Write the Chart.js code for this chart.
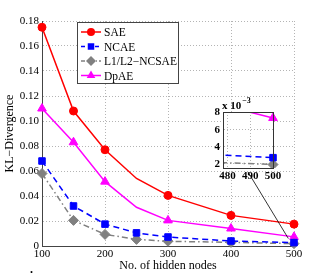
<!DOCTYPE html>
<html>
<head>
<meta charset="utf-8">
<script src="https://cdn.jsdelivr.net/npm/chart.js@4.4.0/dist/chart.umd.min.js"></script>
<style>
html, body { margin: 0; padding: 0; background: #fff; }
#wrap { position: relative; width: 324px; height: 277px; }
#mainChart { position: absolute; left: 0; top: 0; }
#insetChart { position: absolute; left: 200px; top: 96px; }
</style>
</head>
<body>
<div id="wrap">
    <canvas id="mainChart" width="324" height="277"></canvas>
    <canvas id="insetChart" width="90" height="90"></canvas>
</div>
<script>
'use strict';

// values
var hiddenNodes = [100, 150, 200, 250, 300, 400, 500];
var saeValues   = [0.175, 0.108, 0.077, 0.054, 0.0405, 0.0245, 0.0175];
var ncaeValues  = [0.068, 0.032, 0.0175, 0.0105, 0.0072, 0.004, 0.0027];
var l1l2Values  = [0.058, 0.0205, 0.0093, 0.0053, 0.0038, 0.0029, 0.0019];
var dpaeValues  = [0.110, 0.083, 0.0515, 0.031, 0.0205, 0.014, 0.0073];
var seriesNames = ['SAE', 'NCAE', 'L1/L2\u2212NCSAE', 'DpAE'];

var xTicks      = [100, 200, 300, 400, 500];
var yTicks      = [0, 0.02, 0.04, 0.06, 0.08, 0.1, 0.12, 0.14, 0.16, 0.18];
var insetXTicks = [480, 490, 500];
var insetYTicks = [0.002, 0.004, 0.006, 0.008];

var INSET_LEFT = 200, INSET_TOP = 96;
var SERIF = "'Liberation Serif', 'DejaVu Serif', serif";
var GRID  = '#b4b4b4';
var colors = ['#ff0000', '#0000ff', '#808080', '#ff00ff'];
var dashes = [[], [6, 4], [6, 3, 1.5, 3], []];
var shapes = ['circle', 'rect', 'rectRot', 'triangle'];
var radii  = [4, 4.6, 5, 5];

function toPoints(vals) {
    return hiddenNodes.map(function (x, i) { return { x: x, y: vals[i] }; });
}

function makeDatasets(clip) {
    var all = [saeValues, ncaeValues, l1l2Values, dpaeValues];
    return all.map(function (vals, i) {
        // SAE and DpAE have no marker at 250 in the figure
        var r = hiddenNodes.map(function (x) {
            return (x === 250 && (i === 0 || i === 3)) ? 0 : radii[i];
        });
        return {
            label: seriesNames[i],
            data: toPoints(vals),
            borderColor: colors[i],
            backgroundColor: colors[i],
            borderWidth: 1.5,
            borderDash: dashes[i],
            pointStyle: shapes[i],
            pointRadius: r,
            pointBorderWidth: 1,
            pointBorderColor: colors[i],
            pointBackgroundColor: colors[i],
            tension: 0,
            clip: clip
        };
    });
}

function fixTicks(list) {
    return function (scale) {
        scale.ticks = list.map(function (v) { return { value: v }; });
    };
}

function drawMarker(ctx, shape, x, y, r, color) {
    ctx.save();
    ctx.fillStyle = color;
    ctx.beginPath();
    if (shape === 'circle') {
        ctx.arc(x, y, r, 0, Math.PI * 2);
    } else if (shape === 'rect') {
        var s = r * Math.SQRT1_2;
        ctx.rect(x - s, y - s, 2 * s, 2 * s);
    } else if (shape === 'rectRot') {
        ctx.moveTo(x, y - r); ctx.lineTo(x + r, y); ctx.lineTo(x, y + r); ctx.lineTo(x - r, y);
        ctx.closePath();
    } else {
        ctx.moveTo(x, y - r);
        ctx.lineTo(x + r * 0.866, y + r * 0.5);
        ctx.lineTo(x - r * 0.866, y + r * 0.5);
        ctx.closePath();
    }
    ctx.fill();
    ctx.restore();
}

// ---- inset (zoom on 480..500) ----
var insetBox = {
    id: 'insetBox',
    beforeDraw: function (chart) {
        var a = chart.chartArea, ctx = chart.ctx;
        ctx.save();
        ctx.fillStyle = '#fff';
        ctx.fillRect(a.left, a.top, a.right - a.left, a.bottom - a.top);
        ctx.restore();
    },
    afterDraw: function (chart) {
        var a = chart.chartArea, ctx = chart.ctx;
        ctx.save();
        ctx.strokeStyle = '#333';
        ctx.lineWidth = 1;
        ctx.strokeRect(a.left + 0.5, a.top + 0.5, a.right - a.left, a.bottom - a.top);
        ctx.fillStyle = '#000';
        ctx.font = 'bold 11px ' + SERIF;
        ctx.textBaseline = 'alphabetic';
        ctx.fillText('x 10', a.left - 1, a.top - 3);
        var w = ctx.measureText('x 10').width;
        ctx.font = 'bold 8px ' + SERIF;
        ctx.fillText('\u22123', a.left - 1 + w + 1, a.top - 9);
        ctx.restore();
    }
};

var insetChart = new Chart(document.getElementById('insetChart'), {
    type: 'line',
    data: { datasets: makeDatasets({ left: 0, top: 0, right: 8, bottom: 0 }) },
    options: {
        responsive: false,
        animation: false,
        layout: { padding: { left: 0, right: 17, top: 16, bottom: 0 } },
        plugins: { legend: { display: false }, tooltip: { enabled: false } },
        scales: {
            x: {
                type: 'linear', min: 478, max: 500,
                afterBuildTicks: fixTicks(insetXTicks),
                afterFit: function (s) { s.height = 18; },
                ticks: { padding: 2, color: '#000', maxRotation: 0, autoSkip: false, font: { family: SERIF, size: 11, weight: 'bold' } },
                grid: { color: GRID, drawTicks: false },
                border: { color: '#333', dash: [1, 2] }
            },
            y: {
                type: 'linear', min: 0.0015, max: 0.008,
                afterBuildTicks: fixTicks(insetYTicks),
                afterFit: function (s) { s.width = 23; },
                ticks: { display: false },
                grid: { color: GRID, drawTicks: false },
                border: { color: '#333', dash: [1, 2] }
            }
        }
    },
    plugins: [insetBox]
});

// ---- main chart ----
var legendBox = {
    id: 'legendBox',
    afterDatasetsDraw: function (chart) {
        var ctx = chart.ctx;
        var bx = 77, by = 22, bw = 101, bh = 61;
        ctx.save();
        ctx.fillStyle = '#fff';
        ctx.fillRect(bx, by, bw, bh);
        ctx.strokeStyle = '#444';
        ctx.lineWidth = 1;
        ctx.strokeRect(bx + 0.5, by + 0.5, bw, bh);
        ctx.font = '11.5px ' + SERIF;
        ctx.textBaseline = 'middle';
        seriesNames.forEach(function (name, i) {
            var y = by + 10 + i * 14.5;
            ctx.strokeStyle = colors[i];
            ctx.lineWidth = 1.5;
            ctx.setLineDash(i === 2 ? [4, 2, 1, 2] : (i === 1 ? [4, 3] : []));
            ctx.beginPath();
            ctx.moveTo(bx + 4, y);
            ctx.lineTo(bx + 24, y);
            ctx.stroke();
            ctx.setLineDash([]);
            drawMarker(ctx, shapes[i], bx + 14, y, radii[i], colors[i]);
            ctx.fillStyle = '#000';
            ctx.fillText(name, bx + 27, y + 1);
        });
        ctx.restore();
    },
    afterDraw: function (chart) {
        var ctx = chart.ctx;
        var ins = insetChart;
        var ia = ins.chartArea;
        ctx.save();
        // inset y labels, in units of 10^-3
        ctx.fillStyle = '#000';
        ctx.font = 'bold 11px ' + SERIF;
        ctx.textAlign = 'right';
        ctx.textBaseline = 'middle';
        insetYTicks.forEach(function (v) {
            ctx.fillText(String(Math.round(v * 1000)), INSET_LEFT + ia.left - 3,
                         INSET_TOP + ins.scales.y.getPixelForValue(v) + 0.5);
        });
        // connector from the inset down to the 500 cluster
        var sx = INSET_LEFT + ins.scales.x.getPixelForValue(489);
        var sy = INSET_TOP + ia.bottom + 4;
        var ex = chart.scales.x.getPixelForValue(491);
        var ey = chart.scales.y.getPixelForValue(0.006);
        ctx.strokeStyle = '#000';
        ctx.lineWidth = 0.8;
        ctx.beginPath();
        ctx.moveTo(sx, sy);
        ctx.lineTo(ex, ey);
        ctx.stroke();
        ctx.textAlign = 'left';
        ctx.textBaseline = 'alphabetic';
        ctx.font = 'bold 12px ' + SERIF;
        ctx.fillText('.', 30, 273);
        ctx.restore();
    }
};

var mainChart = new Chart(document.getElementById('mainChart'), {
    type: 'line',
    data: { datasets: makeDatasets(false) },
    options: {
        responsive: false,
        animation: false,
        layout: { padding: { left: 0, right: 30, top: 21, bottom: 0 } },
        plugins: { legend: { display: false }, tooltip: { enabled: false } },
        scales: {
            x: {
                type: 'linear', min: 100, max: 500,
                afterBuildTicks: fixTicks(xTicks),
                afterFit: function (s) { s.height = 31; },
                ticks: { padding: 2, color: '#000', maxRotation: 0, autoSkip: false, font: { family: SERIF, size: 11 } },
                grid: { color: GRID, drawTicks: false },
                border: { color: '#444', dash: [1, 2] },
                title: {
                    display: true, text: 'No. of hidden nodes', color: '#000',
                    font: { family: SERIF, size: 12 }, padding: { top: 0, bottom: 4 }
                }
            },
            y: {
                type: 'linear', min: 0, max: 0.18,
                afterBuildTicks: fixTicks(yTicks),
                afterFit: function (s) { s.width = 42; },
                ticks: { padding: 3, color: '#000', autoSkip: false, font: { family: SERIF, size: 11 } },
                grid: { color: GRID, drawTicks: false },
                border: { color: '#444', dash: [1, 2] },
                title: {
                    display: true, text: 'KL\u2212Divergence', color: '#000',
                    font: { family: SERIF, size: 12 }, padding: { top: 3, bottom: 0 }
                }
            }
        }
    },
    plugins: [legendBox]
});
</script>
</body>
</html>
